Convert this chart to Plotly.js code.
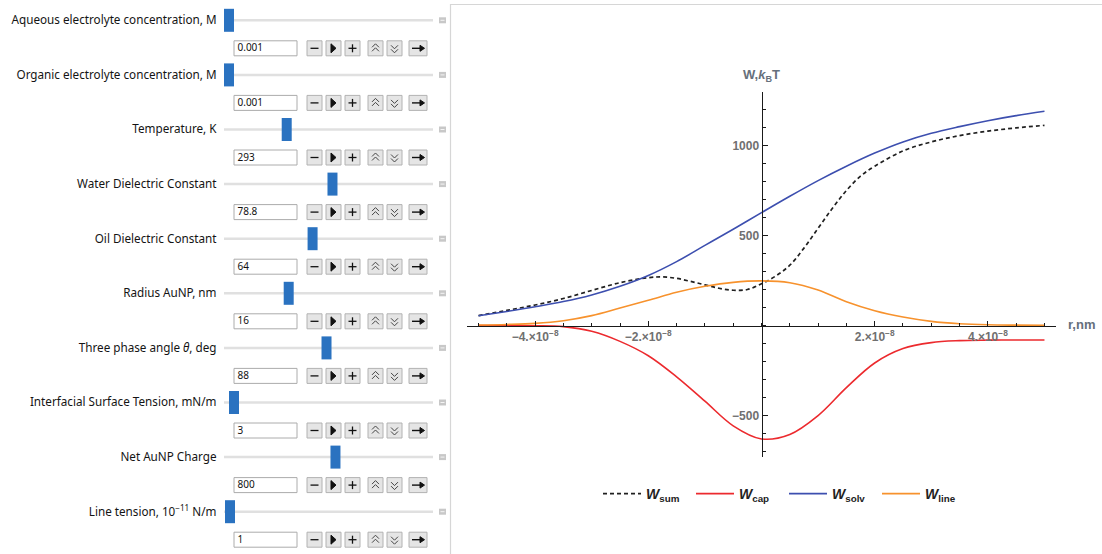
<!DOCTYPE html>
<html><head><meta charset="utf-8">
<script src="https://cdn.plot.ly/plotly-3.0.1.min.js"></script>
<style>html,body{margin:0;padding:0;background:#fff;overflow:hidden}#chart{width:1102px;height:554px}</style>
</head><body><div id="chart"></div>
<script>
// ---------------- data ----------------
const r = [-5.0e-8,-4.5e-8,-4.0e-8,-3.5e-8,-3.0e-8,-2.5e-8,-2.0e-8,-1.5e-8,-1.0e-8,-0.5e-8,0,
           0.5e-8,1.0e-8,1.5e-8,2.0e-8,2.5e-8,3.0e-8,3.5e-8,4.0e-8,4.5e-8,5.0e-8];
const wSolv = [54,78,104,133,170,218,278,355,445,535,627,718,805,885,958,1020,1068,1105,1138,1166,1190];
const wCap  = [0,0,-1,-6,-32,-88,-168,-285,-420,-557,-630,-605,-500,-345,-208,-128,-95,-84,-81,-80,-80];
const wLine = [3,6,12,27,55,97,140,185,218,240,248,238,197,132,82,47,23,10,4,2,1];
const rSum = [-5.0e-8,-4.5e-8,-4.0e-8,-3.5e-8,-3.0e-8,-2.5e-8,-2.0e-8,-1.75e-8,-1.5e-8,-1.25e-8,-1.0e-8,-0.75e-8,-0.5e-8,-0.25e-8,0,
              0.25e-8,0.5e-8,0.75e-8,1.0e-8,1.25e-8,1.5e-8,1.75e-8,2.0e-8,2.5e-8,3.0e-8,3.5e-8,4.0e-8,4.5e-8,5.0e-8];
const wSum = [55,84,114,150,195,238,266,270,262,245,226,207,196,200,232,275,335,430,540,650,750,830,885,970,1020,1055,1080,1098,1112];

const seriesNames = ['<b><i>W</i><sub>sum</sub></b>','<b><i>W</i><sub>cap</sub></b>','<b><i>W</i><sub>solv</sub></b>','<b><i>W</i><sub>line</sub></b>'];
const xTickVals = [-4e-8,-2e-8,2e-8,4e-8];
const xTickText = ['−4.×10<sup>−8</sup>','−2.×10<sup>−8</sup>','2.×10<sup>−8</sup>','4.×10<sup>−8</sup>'];
const yTickVals = [-500,500,1000];
const yTickText = ['−500','500','1000'];

const paramLabels = ['Aqueous electrolyte concentration, M','Organic electrolyte concentration, M','Temperature, K',
  'Water Dielectric Constant','Oil Dielectric Constant','Radius AuNP, nm','Three phase angle <i>θ</i>, deg',
  'Interfacial Surface Tension, mN/m','Net AuNP Charge','Line tension, 10<sup>−11</sup> N/m'];
const paramValues = ['0.001','0.001','293','78.8','64','16','88','3','800','1'];
const sliderFraction = [0,0,0.29,0.52,0.42,0.30,0.49,0.025,0.535,0.005];

// ---------------- page geometry ----------------
const W = 1102, H = 554;
const px = x => x / W;
const py = y => 1 - y / H;
const UI_FONT = 'Noto Sans';
const PLOT_FONT = 'Liberation Sans';

const shapes = [], annotations = [];
function rect(x0,y0,x1,y1,fill,line,lw){
  shapes.push({type:'rect',layer:'below',xref:'paper',yref:'paper',x0:px(x0),x1:px(x1),y0:py(y1),y1:py(y0),
    fillcolor:fill,line:{color:line||fill,width:lw===undefined?1:lw}});
}
function seg(x0,y0,x1,y1,color,lw){
  shapes.push({type:'line',layer:'below',xref:'paper',yref:'paper',x0:px(x0),x1:px(x1),y0:py(y0),y1:py(y1),
    line:{color:color,width:lw}});
}
function path(pts,color,lw,fill){
  const d = pts.map((p,i)=>(i?'L':'M')+px(p[0]).toFixed(5)+','+py(p[1]).toFixed(5)).join(' ')+(fill?' Z':'');
  shapes.push({type:'path',layer:'below',xref:'paper',yref:'paper',path:d,line:{color:color,width:lw},fillcolor:fill||'rgba(0,0,0,0)'});
}
function text(x,y,t,anchor,size,color,family){
  annotations.push({xref:'paper',yref:'paper',x:px(x),y:py(y),text:t,showarrow:false,xanchor:anchor,yanchor:'middle',
    font:{family:family||UI_FONT,size:size,color:color||'#1e1e1e'}});
}

// plot frame
rect(450.5,4.5,1110,560,'rgba(0,0,0,0)','#d6d6d6',1.2);

// control panel
const btns = [[307,322],[326,341],[345,360],[368,383],[387,402],[409,427]];
const labelY = [], valueY = [], labelX = [], valueX = [];
paramLabels.forEach((lab,i)=>{
  const yc = 20.3 + 54.6*i;
  labelY.push(yc+1); labelX.push(216.5);
  seg(224,yc,433,yc,'#e0e0e0',2.5);
  const hx = 229 + sliderFraction[i]*199;
  rect(hx-5,yc-11.5,hx+5,yc+11.5,'#2a72c0','#2a72c0',0);
  rect(439,yc-3,446,yc+3,'#c8c8c8','#c8c8c8',0);
  seg(440.5,yc,444.5,yc,'#f4f4f4',1);
  const yr = yc + 28;
  valueY.push(yr+0.5); valueX.push(237.5);
  rect(234,yr-7.5,297,yr+7.5,'#ffffff','#acacac',1);
  btns.forEach(b=>rect(b[0],yr-7.5,b[1],yr+7.5,'#e5e5e5','#b2b2b2',1));
  seg(310.5,yr,318.5,yr,'#111',1.3);
  path([[331,yr-4.5],[336,yr],[331,yr+4.5]],'#111',1,'#111');
  seg(348.5,yr,356.5,yr,'#111',1.3); seg(352.5,yr-4,352.5,yr+4,'#111',1.3);
  path([[372,yr-1],[375.5,yr-4.5],[379,yr-1]],'#444',1);
  path([[372,yr+3],[375.5,yr-0.5],[379,yr+3]],'#444',1);
  path([[391,yr-3],[394.5,yr+0.5],[398,yr-3]],'#444',1);
  path([[391,yr+1],[394.5,yr+4.5],[398,yr+1]],'#444',1);
  seg(412,yr,421,yr,'#111',1.4);
  path([[420,yr-3],[424.5,yr],[420,yr+3]],'#111',1,'#111');
});

// axis labels
text(761.5,76,'<b>W,<i>k</i><sub>B</sub>T</b>','center',13,'#66707c',PLOT_FONT);
text(1066,324,'<b>r,nm</b>','left',13,'#66707c',PLOT_FONT);

// ---------------- traces ----------------
const traces = [
  {x:rSum,y:wSum,name:seriesNames[0],mode:'lines',line:{color:'#202020',width:1.7,dash:'4px,3px',shape:'spline'}},
  {x:r,y:wCap,name:seriesNames[1],mode:'lines',line:{color:'#ec2a2e',width:1.6,shape:'spline'}},
  {x:r,y:wSolv,name:seriesNames[2],mode:'lines',line:{color:'#3d4faf',width:1.6,shape:'spline'}},
  {x:r,y:wLine,name:seriesNames[3],mode:'lines',line:{color:'#f7922d',width:1.6,shape:'spline'}},
  // control panel texts, on a pixel-unit overlay axis pair
  {x:labelX,y:labelY,text:paramLabels,mode:'text',textposition:'middle left',xaxis:'x2',yaxis:'y2',
    textfont:{family:UI_FONT,size:11.7,color:'#141414'},showlegend:false,hoverinfo:'skip',cliponaxis:false},
  {x:valueX,y:valueY,text:paramValues,mode:'text',textposition:'middle right',xaxis:'x2',yaxis:'y2',
    textfont:{family:UI_FONT,size:10,color:'#111'},showlegend:false,hoverinfo:'skip',cliponaxis:false}
];

const tickFont = {family:PLOT_FONT,size:12,color:'#707070',weight:'bold'};
const layout = {
  width:W,height:H,margin:{l:0,r:0,t:0,b:0},
  paper_bgcolor:'#ffffff',plot_bgcolor:'rgba(0,0,0,0)',
  showlegend:true,
  legend:{orientation:'h',x:px(598),y:py(478),xanchor:'left',yanchor:'top',
    itemwidth:38,entrywidth:40,entrywidthmode:'pixels',
    font:{family:PLOT_FONT,size:14,color:'#222'},bgcolor:'rgba(0,0,0,0)'},
  xaxis:{domain:[px(467.2),px(1055.8)],range:[-5.2e-8,5.2e-8],anchor:'free',position:py(325.5),
    showline:true,linecolor:'#1a1a1a',linewidth:1.3,zeroline:false,showgrid:false,
    ticks:'inside',ticklen:5,tickwidth:1,tickcolor:'#1a1a1a',
    tickmode:'array',tickvals:xTickVals,ticktext:xTickText,tickfont:tickFont,
    minor:{tickmode:'linear',tick0:0,dtick:5e-9,ticks:'inside',ticklen:3,tickwidth:1,tickcolor:'#1a1a1a',showgrid:false},
    fixedrange:true},
  yaxis:{domain:[py(457.3),py(91.7)],range:[-732,1299],anchor:'free',position:px(761.5),
    showline:true,linecolor:'#1a1a1a',linewidth:1.3,zeroline:false,showgrid:false,
    ticks:'inside',ticklen:5,tickwidth:1,tickcolor:'#1a1a1a',
    tickmode:'array',tickvals:yTickVals,ticktext:yTickText,tickfont:tickFont,
    minor:{tickmode:'linear',tick0:0,dtick:100,ticks:'inside',ticklen:3,tickwidth:1,tickcolor:'#1a1a1a',showgrid:false},
    fixedrange:true},
  xaxis2:{domain:[0,1],range:[0,W],anchor:'y2',visible:false,fixedrange:true},
  yaxis2:{domain:[0,1],range:[H,0],anchor:'x2',visible:false,fixedrange:true},
  shapes:shapes,annotations:annotations
};
Plotly.newPlot('chart',traces,layout,{displayModeBar:false,staticPlot:true});
</script></body></html>
